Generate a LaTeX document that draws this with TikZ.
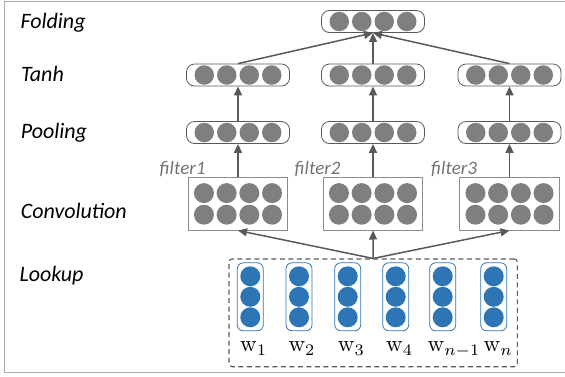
\documentclass[tikz,border=0pt]{standalone}
\usepackage{graphicx}
\usepackage{fontspec}
\newfontfamily\labfont{Carlito}
\usepackage{amsmath}
\usetikzlibrary{arrows.meta,positioning,calc}

\definecolor{dotgray}{RGB}{127,127,127}
\definecolor{linegray}{RGB}{89,89,89}
\definecolor{boxgray}{RGB}{140,140,140}
\definecolor{wordblue}{RGB}{46,117,182}
\definecolor{framegray}{RGB}{170,170,170}
\definecolor{filtergray}{RGB}{115,115,115}

\tikzset{
  pill/.style={draw=linegray, line width=0.8pt, rounded corners=8pt,
    minimum width=103pt, minimum height=22pt, inner sep=0pt},
  convbox/.style={draw=boxgray, line width=0.9pt,
    minimum width=99.6pt, minimum height=52.7pt, inner sep=0pt},
  dot/.style={circle, fill=dotgray, minimum size=19.5pt, inner sep=0pt},
  bigdot/.style={dot, minimum size=20pt},
  wpill/.style={draw=wordblue, line width=0.8pt, rounded corners=6pt,
    minimum width=26pt, minimum height=68pt, inner sep=0pt},
  wdot/.style={circle, fill=wordblue, minimum size=20pt, inner sep=0pt},
  layer/.style={font=\labfont\itshape\fontsize{22}{26}\selectfont, anchor=base west},
  filterlab/.style={font=\labfont\itshape\fontsize{19}{23}\selectfont,
    text=filtergray, anchor=base east},
  wlab/.style={anchor=base west, inner sep=0pt},
  link/.style={draw=linegray, line width=1.5pt, -{Triangle[length=9pt,width=8pt]}}
}

\begin{document}
\begin{tikzpicture}[x=1pt,y=-1pt]
\useasboundingbox (0,0) rectangle (565,376);

% outer frame
\draw[framegray, line width=1pt] (4,1) rectangle (568,372.5);

% layer names
\node[layer] (lfold) at (17,28.3) {Folding};
\node[layer] (ltanh) at (17.5,81.7) {Tanh};
\node[layer] (lpool) at (17.3,138.3) {Pooling};
\node[layer] (lconv) at (17.3,218.3) {Convolution};
\node[layer] (llook) at (16,281.7) {Lookup};

% folding layer
\node[pill] (fold) at (373,21.5) {};
\foreach \k in {0,...,3}
	\node[dot] (fold-\k) at ([xshift={(\k-1.5)*22.5pt}]fold.center) {};

% three filter columns
\foreach[count=\n] \x in {238,373,509.5}
{
	\node[pill] (tanh\n) at (\x,75) {};
	\node[pill] (pool\n) at (\x,132.5) {};
	\node[convbox] (conv\n) at (\x,203.7) {};
	\foreach \k in {0,...,3}
	{
		\node[dot] (tanh\n-\k) at ([xshift={(\k-1.5)*22.5pt}]tanh\n.center) {};
		\node[dot] (pool\n-\k) at ([xshift={(\k-1.5)*22.5pt}]pool\n.center) {};
		\node[bigdot] (conva\n-\k) at ([xshift={(\k-1.5)*22.7pt},yshift=10.6pt]conv\n.center) {};
		\node[bigdot] (convb\n-\k) at ([xshift={(\k-1.5)*22.7pt},yshift=-11pt]conv\n.center) {};
	}
	\node[filterlab] (filter\n) at ([xshift=-29pt,yshift=2.3pt]conv\n.north) {filter\n};
	\draw[link] (conv\n.north) -- (pool\n.south);
	\draw[link] (pool\n.north) -- (tanh\n.south);
	\draw[link] (tanh\n.north) -- (fold.south);
}

% lookup table
\node[draw=linegray, line width=1.1pt, dashed, dash pattern=on 5pt off 3.5pt,
	rounded corners=3pt, minimum width=288.3pt, minimum height=107.7pt,
	inner sep=0pt] (lookup) at (373.15,312.85) {};
\foreach[count=\i] \wx/\lx/\w in {250.3/240/1,299/288.3/2,347.7/337.7/3,395.7/386/4,442.7/427.5/{n-1},493.7/483.5/n}
{
	\node[wpill] (word\i) at (\wx,296.8) {};
	\foreach \k in {-1,0,1}
		\node[wdot] (word\i-\k) at ([yshift={-\k*20.5pt}]word\i.center) {};
	\node[wlab] (wlab\i) at (\lx,351.7) {\scalebox{2.3}{$\mathrm{w}_{\w}$}};
}

% lookup to convolution
\foreach \n in {1,2,3}
	\draw[link] (lookup.north) -- (conv\n.south);

\end{tikzpicture}
\end{document}
